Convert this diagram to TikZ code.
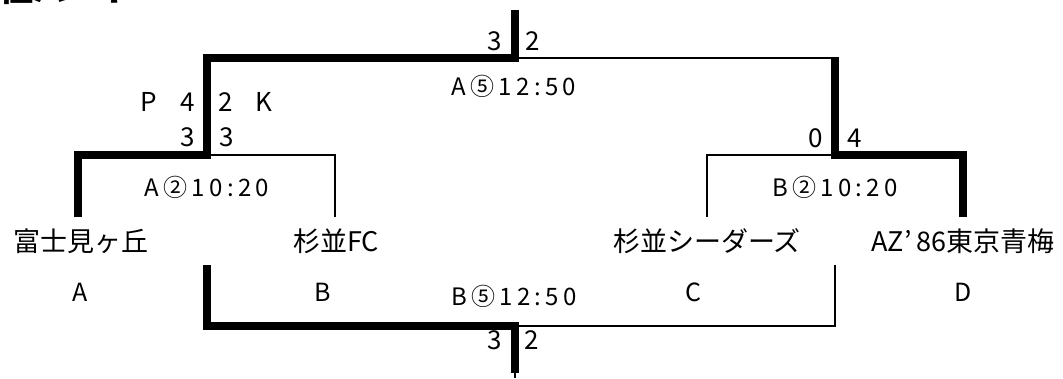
\documentclass[tikz,border=0pt]{standalone}
\usepackage{fontspec}
\setmainfont{Noto Sans CJK JP}
\begin{document}
\begin{tikzpicture}[x=1pt,y=-1pt]
    \tikzset{line join=miter,
      win/.style={line width=7.5pt},
      lose/.style={line width=2.5pt},
      title/.style={inner sep=0pt,font=\fontsize{34}{38}\selectfont\bfseries},
      team/.style={inner sep=0pt,font=\fontsize{27}{30}\selectfont},
      slot/.style={inner sep=0pt,font=\fontsize{25}{28}\selectfont},
      score/.style={inner sep=0pt,font=\fontsize{26}{28}\selectfont},
      match/.style={inner sep=0pt,font=\fontsize{24}{28}\selectfont\addfontfeature{LetterSpace=18}}};
    \useasboundingbox (0,0) rectangle (1063,378);
    \clip (0,0) rectangle (1063,378);
    \node[title,anchor=base east] (ttl) at (136,1) {上位パート};
    % bracket points
    \coordinate (A) at (78,217);
    \coordinate (B) at (335,217);
    \coordinate (C) at (707,217);
    \coordinate (D) at (963,217);
    \coordinate (SL) at (207,155);
    \coordinate (SR) at (835,155);
    \coordinate (F) at (515,58);
    \coordinate (FR) at (835,56.75);
    \coordinate (Ftop) at (515,10);
    \coordinate (Fbot) at (515,62);
    \coordinate (L3) at (207,265);
    \coordinate (R3) at (835,265);
    \coordinate (T) at (515,326);
    \coordinate (Tbot) at (515,373);
    \coordinate (Tend) at (515,378);
    % lines
    \draw[win] (A) |- (SL) |- (F);
    \draw[win] (Ftop) -- (Fbot);
    \draw[lose] (SL) -| (B);
    \draw[lose] (F) -- (FR |- F);
    \draw[win] (FR) -- (SR) -| (D);
    \draw[lose] (SR) -| (C);
    \draw[win] (L3) |- (T) -- (Tbot);
    \draw[lose] (Tbot) -- (Tend);
    \draw[lose] (T) -| (R3);
    % scores
    \node[score] (f3) at (495,41) {3};
    \node[score] (f2) at (533,41) {2};
    \node[match] (fm) at (514,86) {A⑤12:50};
    \node[score] (pP) at (149,102) {P};
    \node[score] (p4) at (188,102) {4};
    \node[score] (p2) at (226,102) {2};
    \node[score] (pK) at (264,102) {K};
    \node[score] (l3) at (188,137) {3};
    \node[score] (r3) at (227,137) {3};
    \node[match] (lm) at (207,187) {A②10:20};
    \node[score] (l0) at (816,138) {0};
    \node[score] (r4) at (855,138) {4};
    \node[match] (rm) at (835,187) {B②10:20};
    % teams
    \node[team] (fuji) at (81,241) {富士見ヶ丘};
    \node[team] (sfc) at (336,241) {杉並FC};
    \node[team] (sced) at (707,241) {杉並シーダーズ};
    \node[team] (az) at (963,241) {AZ’\hspace{5pt}86東京青梅};
    \node[slot] (sA) at (80,292) {A};
    \node[slot] (sB) at (323,292) {B};
    \node[slot] (sC) at (693,292) {C};
    \node[slot] (sD) at (963,292) {D};
    \node[match] (tm) at (514,296) {B⑤12:50};
    \node[score] (t3) at (495,340) {3};
    \node[score] (t2) at (532,340) {2};
\end{tikzpicture}
\end{document}
